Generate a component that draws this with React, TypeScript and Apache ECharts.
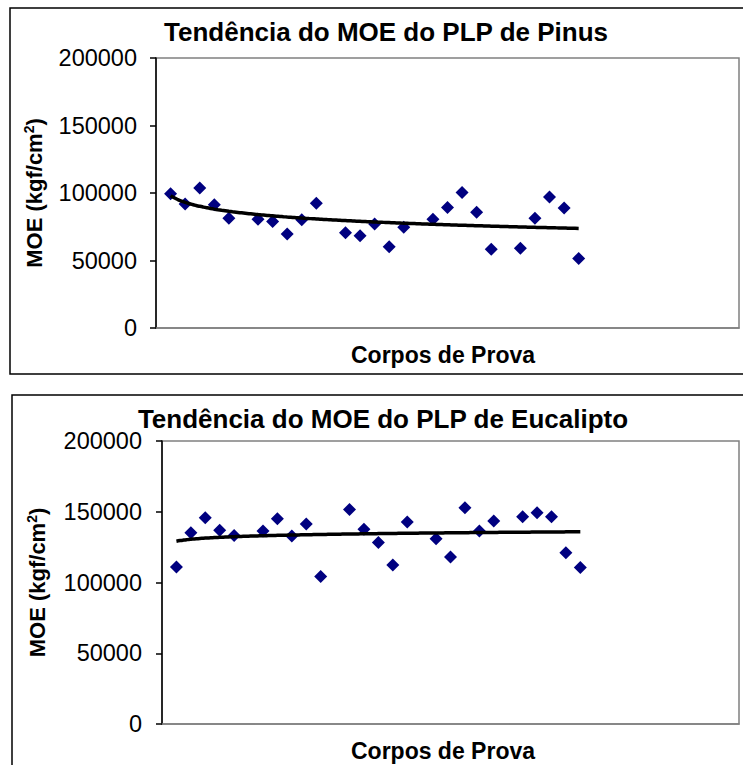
import React, { useEffect, useRef } from "react";
import * as echarts from "echarts";

// Specimen numbers (x positions) — gaps where no specimen was plotted
const specimens = [1, 2, 3, 4, 5, 7, 8, 9, 10, 11, 13, 14, 15, 16, 17, 19, 20, 21, 22, 23, 25, 26, 27, 28, 29];

const pinusMOE = [
  99500, 91800, 103700, 91300, 81300, 80600, 78900, 69600, 80100, 92500,
  70600, 68400, 77100, 60200, 74600, 80600, 89300, 100400, 85800, 58400,
  59000, 81300, 97000, 88800, 51500,
];

const eucaliptoMOE = [
  111000, 135200, 145800, 136900, 133300, 136400, 145100, 132900, 141300, 104200,
  151600, 137600, 128200, 112400, 142700, 131000, 118100, 152800, 136400, 143400,
  146500, 149300, 146500, 121100, 110600,
];

const titles = ["Tendência do MOE do PLP de Pinus", "Tendência do MOE do PLP de Eucalipto"];
const yAxisTitle = "MOE (kgf/cm{sup|2})";
const xAxisTitle = "Corpos de Prova";
const yTicks = { min: 0, max: 200000, interval: 50000 };

// Logarithmic least-squares trendline (like the spreadsheet's log trend)
function logTrend(xs: number[], ys: number[]) {
  const n = xs.length;
  const lx = xs.map((x) => Math.log(x));
  const mx = lx.reduce((a, b) => a + b, 0) / n;
  const my = ys.reduce((a, b) => a + b, 0) / n;
  let sxy = 0, sxx = 0;
  for (let i = 0; i < n; i++) {
    sxy += (lx[i] - mx) * (ys[i] - my);
    sxx += (lx[i] - mx) * (lx[i] - mx);
  }
  const b = sxy / sxx;
  const a = my - b * mx;
  const out: number[][] = [];
  const x0 = xs[0], x1 = xs[n - 1];
  for (let x = x0; x <= x1; x += 0.25) out.push([x, a + b * Math.log(x)]);
  return out;
}

const FONT = "'Liberation Sans', Arial, sans-serif";

export default function App() {
  const ref = useRef<HTMLDivElement>(null);
  useEffect(() => {
    if (!ref.current) return;
    const chart = echarts.init(ref.current, null, { renderer: "svg" });

    const grids = [
      { left: 156, top: 58, width: 583, height: 270 },
      { left: 162, top: 441, width: 577, height: 283 },
    ];
    const seriesData = [pinusMOE, eucaliptoMOE];

    const xAxes = grids.map((g, i) => ({
      type: "value",
      gridIndex: i,
      min: 0,
      max: 40,
      axisLine: { show: true, lineStyle: { color: "#808080", width: 1.5 } },
      axisTick: { show: false },
      axisLabel: { show: false },
      splitLine: { show: false },
      name: xAxisTitle,
      nameLocation: "middle",
      nameGap: 15,
      nameTextStyle: {
        fontFamily: FONT,
        fontWeight: "bold",
        fontSize: 23,
        color: "#000",
        verticalAlign: "top",
        padding: [0, 0, 0, 2 * (443 - (g.left + g.width / 2))],
      },
    }));

    const yAxes = grids.map((_, i) => ({
      type: "value",
      gridIndex: i,
      min: yTicks.min,
      max: yTicks.max,
      interval: yTicks.interval,
      axisLine: { show: true, lineStyle: { color: "#000", width: 1.5 } },
      axisTick: { show: true, inside: false, length: 6, lineStyle: { color: "#000", width: 1.5 } },
      axisLabel: {
        fontFamily: FONT,
        fontSize: 23.5,
        color: "#000",
        margin: i === 0 ? 19 : 20,
        formatter: (v: number) => String(v),
      },
      splitLine: { show: false },
      name: yAxisTitle,
      nameLocation: "middle",
      nameGap: i === 0 ? 110 : 113,
      nameRotate: 90,
      nameTextStyle: {
        fontFamily: FONT,
        fontWeight: "bold",
        fontSize: 22,
        color: "#000",
        rich: {
          sup: {
            fontFamily: FONT,
            fontWeight: "bold",
            fontSize: 14,
            color: "#000",
            verticalAlign: "top",
            padding: [0, 0, 10, 0],
          },
        },
      },
    }));

    const series: any[] = [];
    seriesData.forEach((vals, i) => {
      series.push({
        type: "scatter",
        xAxisIndex: i,
        yAxisIndex: i,
        symbol: "diamond",
        symbolSize: [13, 13],
        itemStyle: { color: "#000080", opacity: 1 },
        data: specimens.map((x, k) => [x, vals[k]]),
        z: 3,
      });
      series.push({
        type: "line",
        xAxisIndex: i,
        yAxisIndex: i,
        showSymbol: false,
        smooth: true,
        lineStyle: { color: "#000", width: 3.5 },
        data: logTrend(specimens, vals),
        z: 4,
      });
    });

    chart.setOption({
      animation: false,
      backgroundColor: "#fff",
      title: [
        {
          text: titles[0],
          left: 381,
          top: 14,
          textAlign: "center",
          textStyle: { fontFamily: FONT, fontWeight: "bold", fontSize: 26, color: "#000" },
        },
        {
          text: titles[1],
          left: 378,
          top: 401,
          textAlign: "center",
          textStyle: { fontFamily: FONT, fontWeight: "bold", fontSize: 26, color: "#000" },
        },
      ],
      grid: grids.map((g) => ({
        ...g,
        show: true,
        borderColor: "#808080",
        borderWidth: 1.5,
        backgroundColor: "transparent",
      })),
      xAxis: xAxes,
      yAxis: yAxes,
      series,
      graphic: [
        {
          type: "rect",
          shape: { x: 10, y: 8, width: 760, height: 366 },
          style: { fill: "none", stroke: "#000", lineWidth: 1.5 },
          silent: true,
        },
        {
          type: "rect",
          shape: { x: 12, y: 395, width: 760, height: 420 },
          style: { fill: "none", stroke: "#000", lineWidth: 1.5 },
          silent: true,
        },
      ],
    });
    return () => chart.dispose();
  }, []);
  return (
    <div
      ref={ref}
      style={{ position: "absolute", left: 0, top: 0, width: 743, height: 765, background: "#fff" }}
    />
  );
}
